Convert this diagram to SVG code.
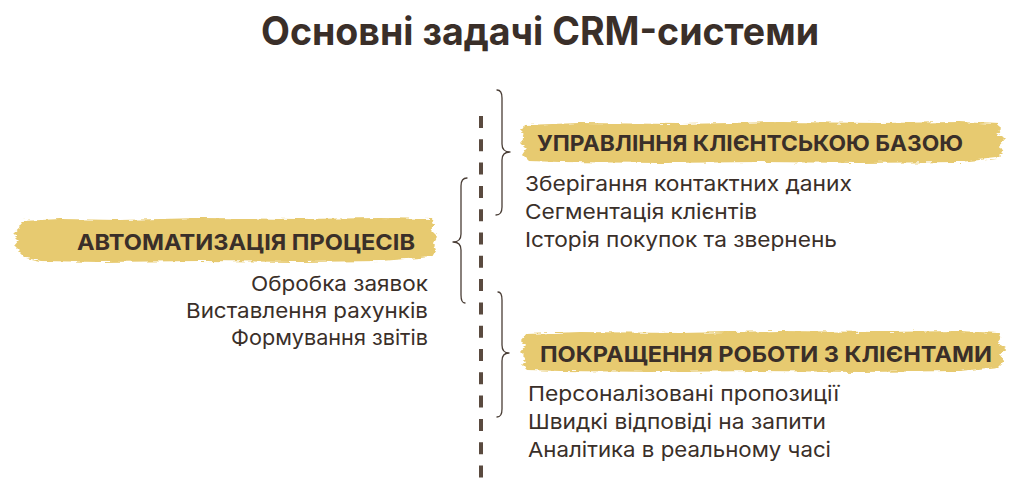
<svg xmlns="http://www.w3.org/2000/svg" width="1036" height="500" viewBox="0 0 1036 500">
  <style>
    .title { font-family: Inter, "Liberation Sans", sans-serif; font-weight: 700; font-size: 39px; fill: #3a2f29; }
    .head { font-family: Inter, "Liberation Sans", sans-serif; font-weight: 700; font-size: 22px; fill: #3a2f29; }
    .item { font-family: Inter, "Liberation Sans", sans-serif; font-weight: 400; font-size: 20.5px; fill: #3a2f29; }
    .brush { fill: #e7ca6f; filter: url(#rough); }
    .brace { fill: none; stroke: #4a3e36; stroke-width: 1.3; stroke-linecap: round; stroke-linejoin: round; }
    .axis { stroke: #5a4a3f; stroke-width: 4; stroke-dasharray: 12 11.3; }
  </style>
  <defs>
    <filter id="rough" x="-3%" y="-25%" width="106%" height="150%">
      <feTurbulence type="fractalNoise" baseFrequency="0.09 0.45" numOctaves="2" seed="4" result="n"/>
      <feDisplacementMap in="SourceGraphic" in2="n" scale="5" xChannelSelector="R" yChannelSelector="G"/>
    </filter>
  </defs>
  <rect width="1036" height="500" fill="#ffffff"/>

  <text class="title" x="261" y="45" textLength="558" lengthAdjust="spacingAndGlyphs">Основні задачі CRM-системи</text>

  <g id="connectors">
    <line class="axis" x1="481" y1="116" x2="481" y2="478"/>
    <path class="brace" d="M467,178 Q461,178 461,186 L461,234 Q461,242 453,242 Q461,242 461,250 L461,295 Q461,303 465,303"/>
    <path class="brace" d="M497,90 Q502,90 502,98 L502,144 Q502,152 510,152 Q502,152 502,160 L502,207 Q502,215 496,215"/>
    <path class="brace" d="M498,292 Q502,292 502,300 L502,345 Q502,353 509,353 Q502,353 502,361 L502,409 Q502,417 497,417"/>
  </g>

  <g id="node-automation">
    <path class="brush" d="M22,221 L60,219 L120,220 L200,218 L300,219 L380,218 L432,219 L434,225 L431,230 L437,236 L433,243 L436,250 L432,257 L380,261 L300,262 L200,261 L100,262 L40,261 L26,258 L20,252 L14,246 L19,240 L13,234 L20,228 Z"/>
    <text class="head" x="415" y="250" text-anchor="end" textLength="338" lengthAdjust="spacingAndGlyphs">АВТОМАТИЗАЦІЯ ПРОЦЕСІВ</text>
    <text class="item" x="428" y="290.5" text-anchor="end" textLength="177" lengthAdjust="spacingAndGlyphs">Обробка заявок</text>
    <text class="item" x="428" y="317.5" text-anchor="end" textLength="242" lengthAdjust="spacingAndGlyphs">Виставлення рахунків</text>
    <text class="item" x="428" y="344.5" text-anchor="end" textLength="197" lengthAdjust="spacingAndGlyphs">Формування звітів</text>
  </g>

  <g id="node-clients-base">
    <path class="brush" d="M525,125 L580,123 L680,124 L780,122 L880,123 L960,122 L998,124 L1001,129 L997,134 L1005,139 L999,146 L1003,152 L997,158 L960,162 L860,163 L760,162 L660,163 L560,162 L528,161 L522,155 L526,149 L520,143 L525,137 L521,131 Z"/>
    <text class="head" x="537" y="151" textLength="426" lengthAdjust="spacingAndGlyphs">УПРАВЛІННЯ КЛІЄНТСЬКОЮ БАЗОЮ</text>
    <text class="item" x="525" y="190.5" textLength="327" lengthAdjust="spacingAndGlyphs">Зберігання контактних даних</text>
    <text class="item" x="525" y="218.5" textLength="232" lengthAdjust="spacingAndGlyphs">Сегментація клієнтів</text>
    <text class="item" x="525" y="246.5" textLength="312" lengthAdjust="spacingAndGlyphs">Історія покупок та звернень</text>
  </g>

  <g id="node-client-work">
    <path class="brush" d="M526,334 L580,332 L680,333 L780,331 L880,332 L960,331 L998,333 L1001,338 L997,343 L1006,348 L1000,355 L1004,361 L998,367 L960,371 L860,372 L760,371 L660,372 L560,371 L528,370 L522,364 L526,358 L520,352 L525,346 L521,340 Z"/>
    <text class="head" x="540" y="362" textLength="452" lengthAdjust="spacingAndGlyphs">ПОКРАЩЕННЯ РОБОТИ З КЛІЄНТАМИ</text>
    <text class="item" x="528" y="400.5" textLength="311" lengthAdjust="spacingAndGlyphs">Персоналізовані пропозиції</text>
    <text class="item" x="528" y="429" textLength="298" lengthAdjust="spacingAndGlyphs">Швидкі відповіді на запити</text>
    <text class="item" x="528" y="457" textLength="303" lengthAdjust="spacingAndGlyphs">Аналітика в реальному часі</text>
  </g>
</svg>
